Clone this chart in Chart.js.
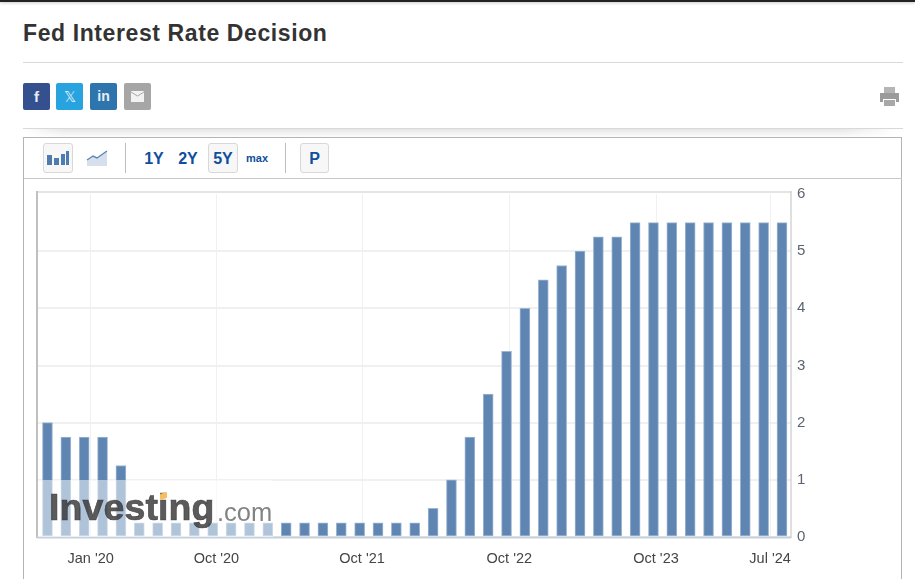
<!DOCTYPE html>
<html>
<head>
<meta charset="utf-8">
<title>Fed Interest Rate Decision</title>
<script src="https://cdn.jsdelivr.net/npm/chart.js@4"></script>
<style>
html, body { margin: 0; padding: 0; background: #fff; overflow: hidden; }
body { width: 915px; height: 579px; position: relative; font-family: "Liberation Sans", Arial, sans-serif; }
.abs { position: absolute; }
#topbar { left: 0; top: 0; width: 915px; height: 2px; background: #222; box-shadow: 0 1px 3px rgba(0,0,0,.25); }
h1 { position: absolute; left: 23px; top: 19px; margin: 0; font-size: 23px; line-height: 28px; font-weight: bold; color: #333; letter-spacing: .6px; }
.rule { left: 23px; width: 880px; height: 1px; background: #d9d9d9; }
#shadow { left: 23px; top: 129px; width: 875px; height: 9px; background: linear-gradient(to bottom, #e6e6e6, #fff);
  -webkit-mask-image: linear-gradient(to right, transparent, #000 40px, #000 820px, transparent); }
.social { top: 83px; width: 27px; height: 27px; border-radius: 2px; color: #e8eef6; text-align: center; font-weight: bold; line-height: 27px; font-size: 15px; }
#frame { left: 23px; top: 137px; width: 879px; height: 460px; border: 1px solid #b4b4b4; box-sizing: border-box; background: #fff; }
#toolline { left: 24px; top: 178px; width: 878px; height: 1px; background: #c8c8c8; }
.sep { top: 143px; width: 1px; height: 30px; background: #bdbdbd; }
.btn { top: 143px; height: 30px; box-sizing: border-box; border: 1px solid #d8d8d8; border-radius: 3px; background: #f7f7f7; }
.range { top: 143px; height: 30px; line-height: 31px; text-align: center; color: #0f4f9c; font-weight: bold; font-size: 16px; }
#chartbox { left: 24px; top: 179px; width: 878px; height: 400px; }
#wash { left: 38px; top: 480px; width: 235px; height: 57px; background: rgba(255,255,255,.5); }
#wm1 { left: 49px; top: 482px; font-size: 37.5px; line-height: 50px; font-weight: bold; color: rgba(55,55,55,.82); letter-spacing: .1px; -webkit-text-stroke: .7px rgba(55,55,55,.82); filter: blur(.5px); }
#wm2 { left: 217px; top: 496px; font-size: 25.5px; line-height: 32px; color: rgba(90,90,90,.75); filter: blur(.3px); }
#flag { left: 160px; top: 493px; width: 7px; height: 6px; background: #f7bd5c; transform: skewY(-15deg); border-radius: 1px; }
</style>
</head>
<body>
<div class="abs" id="topbar"></div>
<h1>Fed Interest Rate Decision</h1>
<div class="abs rule" style="top:62px"></div>

<div class="abs social" style="left:23px;background:#34508e">f</div>
<div class="abs social" style="left:56px;background:#27a4df;font-weight:normal">&#120143;</div>
<div class="abs social" style="left:90px;background:#2e75ae;font-size:14px">in</div>
<div class="abs social" style="left:124px;background:#a6a6a6">
  <svg width="27" height="27"><path d="M7 8h13v11H7z" fill="#f2f2f2"/><path d="M7 9l6.5 4 6.5-4" fill="none" stroke="#a6a6a6" stroke-width="1"/></svg>
</div>
<svg class="abs" style="left:879px;top:86px" width="21" height="21">
  <path d="M5 1h11v6H5z" fill="#b5b5b5"/>
  <path d="M1 7h19v9h-3v-3H4v3H1z" fill="#9b9b9b"/>
  <path d="M5 14h11v6H5z" fill="#a8a8a8"/>
</svg>

<div class="abs rule" style="top:128px"></div>
<div class="abs" id="shadow"></div>

<div class="abs" id="frame"></div>
<div class="abs" id="toolline"></div>
<div class="abs btn" style="left:43px;width:30px"></div>
<svg class="abs" style="left:46px;top:149px" width="24" height="18">
  <path d="M1 6h5v10H1zM8 9h5v7H8zM15 5h4v11h-4zM20 2h3v14h-3z" fill="#4f7cb0"/>
</svg>
<svg class="abs" style="left:86px;top:149px" width="22" height="18">
  <path d="M1 11l6-4 4 2 10-7v15H1z" fill="#d5e0ec"/>
  <path d="M1 11l6-4 4 2 10-7" fill="none" stroke="#5d87b5" stroke-width="1.4"/>
</svg>
<div class="abs sep" style="left:125px"></div>
<div class="abs range" style="left:141px;width:26px">1Y</div>
<div class="abs range" style="left:175px;width:26px">2Y</div>
<div class="abs btn" style="left:208px;width:30px"></div>
<div class="abs range" style="left:208px;width:30px">5Y</div>
<div class="abs range" style="left:243px;width:28px;font-size:11px">max</div>
<div class="abs sep" style="left:285px"></div>
<div class="abs btn" style="left:300px;width:29px"></div>
<div class="abs range" style="left:300px;width:29px">P</div>

<div class="abs" id="chartbox"><canvas id="rateChart" width="878" height="400"></canvas></div>

<div class="abs" id="wash"></div>
<div class="abs" id="wm1">Investing</div>
<div class="abs" id="flag"></div>
<div class="abs" id="wm2">.com</div>

<script>
// one bar per FOMC meeting, spaced evenly
var meetings = ['Sep 19', 'Oct 19', 'Dec 19', 'Jan 20', 'Mar 20', 'Mar 20b', 'Apr 20', 'Jun 20', 'Jul 20', 'Sep 20', 'Nov 20', 'Dec 20',
  'Jan 21', 'Mar 21', 'Apr 21', 'Jun 21', 'Jul 21', 'Sep 21', 'Nov 21', 'Dec 21',
  'Jan 22', 'Mar 22', 'May 22', 'Jun 22', 'Jul 22', 'Sep 22', 'Nov 22', 'Dec 22',
  'Feb 23', 'Mar 23', 'May 23', 'Jun 23', 'Jul 23', 'Sep 23', 'Nov 23', 'Dec 23',
  'Jan 24', 'Mar 24', 'May 24', 'Jun 24', 'Jul 24'];
var rates = [2, 1.75, 1.75, 1.75, 1.25, 0.25, 0.25, 0.25, 0.25, 0.25, 0.25, 0.25,
  0.25, 0.25, 0.25, 0.25, 0.25, 0.25, 0.25, 0.25,
  0.25, 0.5, 1, 1.75, 2.5, 3.25, 4, 4.5,
  4.75, 5, 5.25, 5.25, 5.5, 5.5, 5.5, 5.5,
  5.5, 5.5, 5.5, 5.5, 5.5];
var tickLabels = ["Jan '20", "Oct '20", "Oct '21", "Oct '22", "Oct '23", "Jul '24"];
var tickSpots = [2.35, 9.2, 17.13, 25.15, 33.14, 39.35];
var yTicks = [0, 1, 2, 3, 4, 5, 6];

var points = meetings.map(function (m, i) { return { x: i, y: rates[i] }; });

// the plot frame: heavy left/right edge, pale top, blue-grey base
var plotFrame = {
  id: 'plotFrame',
  afterDatasetsDraw: function (chart) {
    var a = chart.chartArea, c = chart.ctx;
    c.save();
    c.fillStyle = '#e4e4e4';
    c.fillRect(a.left, a.top - 3, a.right - a.left, 2);
    c.fillStyle = '#c0c0c0';
    c.fillRect(a.left - 1, a.top - 3, 2, a.bottom - a.top + 4);
    c.fillRect(a.right - 0.5, a.top - 3, 1, a.bottom - a.top + 4);
    c.fillStyle = '#c6d0dc';
    c.fillRect(a.left, a.bottom - 0.5, a.right - a.left, 2);
    c.restore();
  }
};

var rateChart = new Chart(document.getElementById('rateChart').getContext('2d'), {
  type: 'bar',
  data: {
    datasets: [{
      label: 'Fed Interest Rate Decision',
      data: points,
      backgroundColor: '#5f86b3',
      borderColor: '#9fb6d1',
      borderWidth: 1,
      borderSkipped: false,
      barThickness: 10
    }]
  },
  plugins: [plotFrame],
  options: {
    responsive: false,
    animation: false,
    layout: { padding: { left: 13, right: 0, top: 13, bottom: 0 } },
    plugins: { legend: { display: false }, title: { display: false }, tooltip: { enabled: false } },
    scales: {
      x: {
        type: 'linear',
        offset: false,
        min: -0.57,
        max: 40.49,
        afterBuildTicks: function (axis) {
          axis.ticks = tickSpots.map(function (v) { return { value: v }; });
        },
        afterFit: function (axis) { axis.height = 42; },
        grid: { color: '#f1f1f1', lineWidth: 1, drawTicks: false, offset: false },
        border: { display: false },
        ticks: {
          autoSkip: false,
          maxRotation: 0,
          padding: 13,
          color: '#444',
          font: { family: '"Liberation Sans", Arial, sans-serif', size: 14.5 },
          callback: function (v) { return tickLabels[tickSpots.indexOf(v)]; }
        }
      },
      y: {
        position: 'right',
        min: 0,
        max: 6,
        afterBuildTicks: function (axis) {
          axis.ticks = yTicks.map(function (v) { return { value: v }; });
        },
        afterFit: function (axis) { axis.width = 111; },
        grid: {
          color: function (ctx) { return ctx.tick && ctx.tick.value === 6 ? 'rgba(0,0,0,0)' : '#f0f0f0'; },
          lineWidth: 2,
          drawTicks: false
        },
        border: { display: false },
        ticks: {
          padding: 6,
          color: '#5b6570',
          font: { family: '"Liberation Sans", Arial, sans-serif', size: 15 }
        }
      }
    }
  }
});
</script>
</body>
</html>
